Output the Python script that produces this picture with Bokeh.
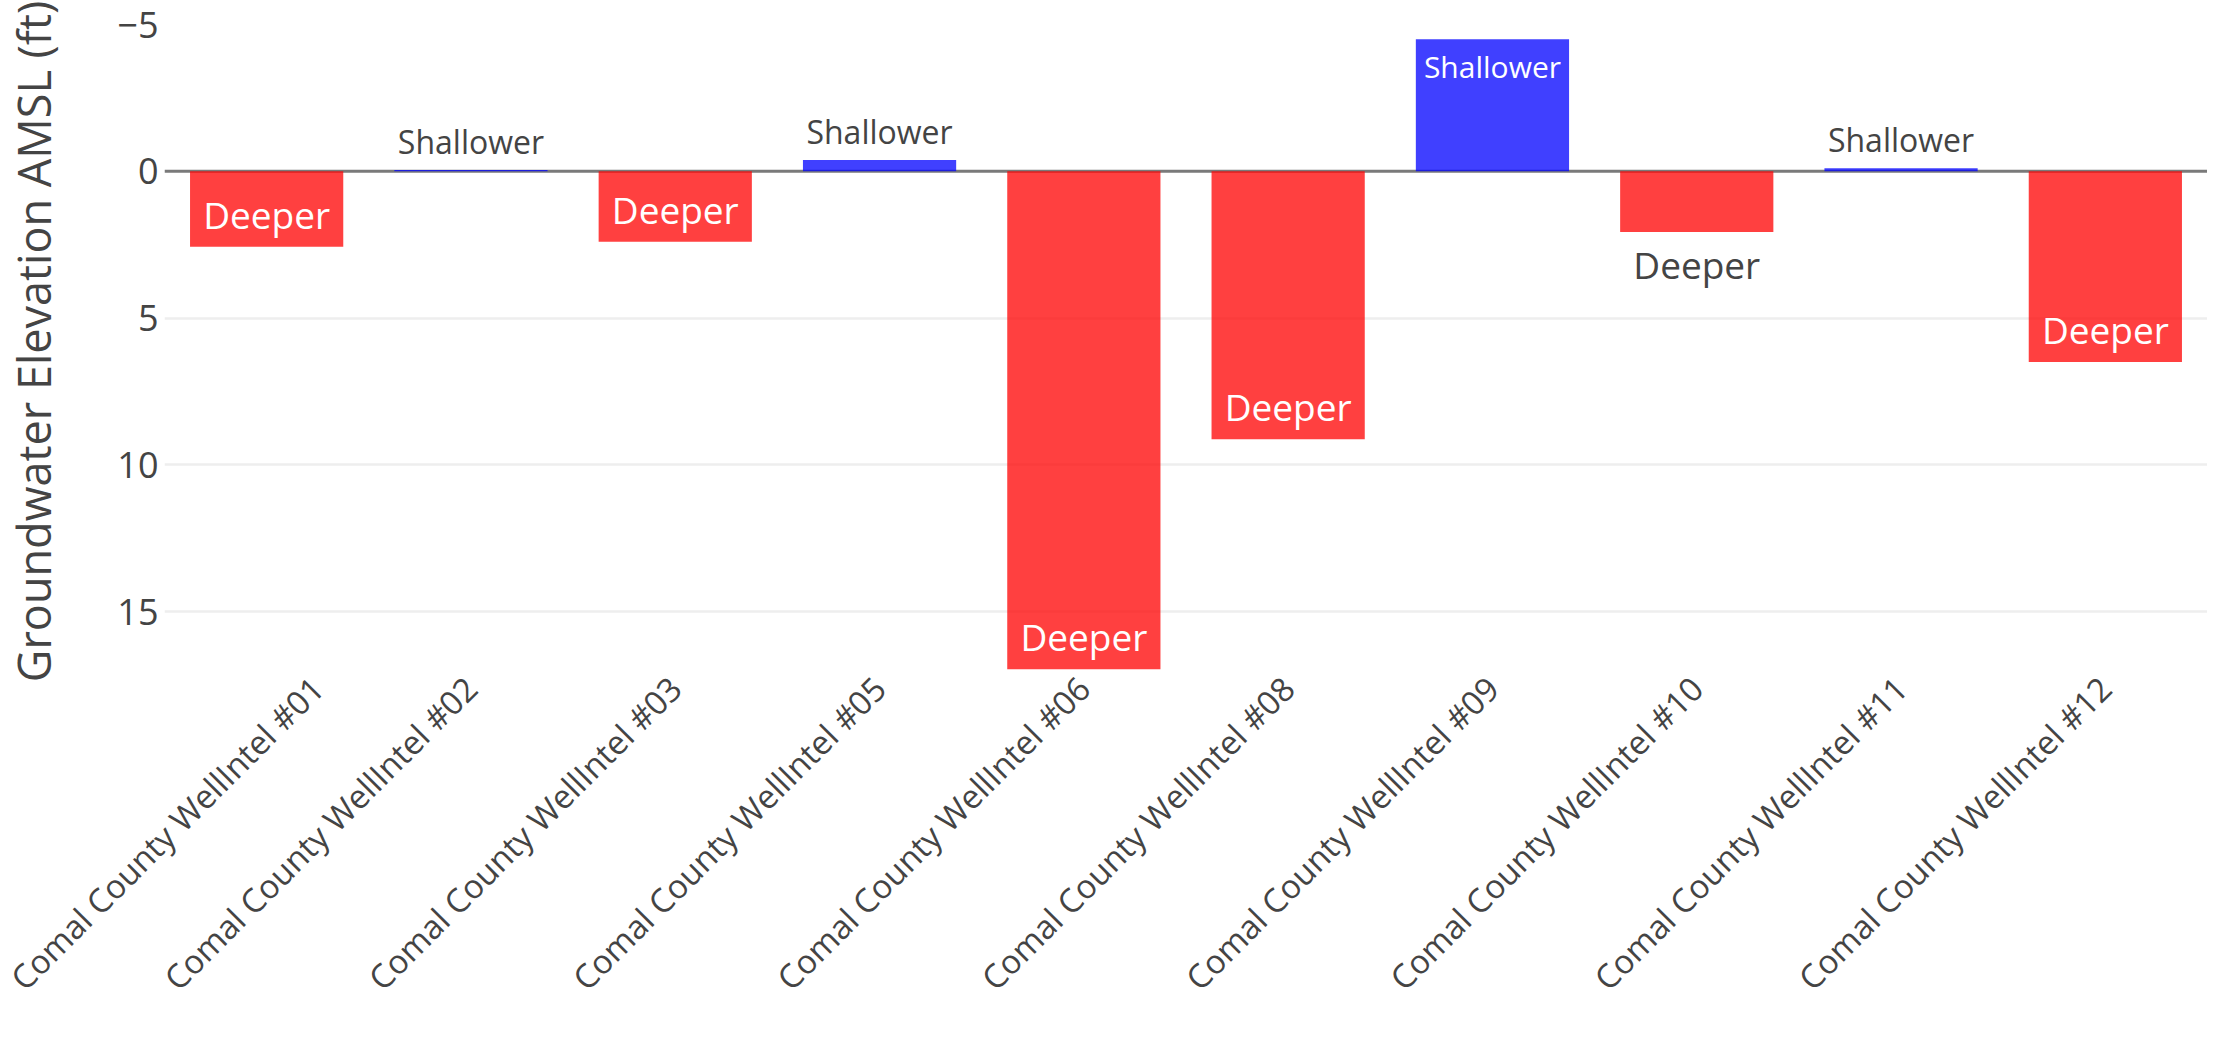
import math
from bokeh.plotting import figure
from bokeh.models import Range1d, FactorRange, FixedTicker, Span, ColumnDataSource
from bokeh.embed import file_html
from bokeh.resources import INLINE

# ---- data ----
wells = [
    "Comal County WellIntel #01",
    "Comal County WellIntel #02",
    "Comal County WellIntel #03",
    "Comal County WellIntel #05",
    "Comal County WellIntel #06",
    "Comal County WellIntel #08",
    "Comal County WellIntel #09",
    "Comal County WellIntel #10",
    "Comal County WellIntel #11",
    "Comal County WellIntel #12",
]
change_ft = [2.57, -0.04, 2.40, -0.38, 16.97, 9.13, -4.50, 2.07, -0.10, 6.50]
direction = ["Deeper", "Shallower", "Deeper", "Shallower", "Deeper",
             "Deeper", "Shallower", "Deeper", "Shallower", "Deeper"]
y_ticks = [-5, 0, 5, 10, 15]
y_tick_labels = ["\u22125", "0", "5", "10", "15"]
y_title = "Groundwater Elevation AMSL (ft)"

FONT = "Open Sans"
TXT = "#444444"

# ---- derived styling ----
bar_colors = ["red" if v > 0 else "blue" for v in change_ft]
inside = [abs(v) >= 2.2 for v in change_ft]
label_colors = ["white" if ins else TXT for ins in inside]
baselines, offsets, sizes = [], [], []
for v, d, ins in zip(change_ft, direction, inside):
    deeper = v > 0
    if (deeper and ins) or ((not deeper) and (not ins)):
        baselines.append("bottom"); offsets.append(-7)
    else:
        baselines.append("top"); offsets.append(7)
    if d == "Deeper":
        sizes.append("37px")
    else:
        sizes.append("30px" if ins else "32px")

bars = ColumnDataSource(dict(well=wells, value=change_ft, color=bar_colors))
labs = ColumnDataSource(dict(well=wells, value=change_ft, text=direction,
                             color=label_colors, baseline=baselines,
                             yoff=offsets, size=sizes))

p = figure(
    x_range=FactorRange(*wells),
    y_range=Range1d(17.419, -5.818),
    width=2207, height=1045,
    output_backend="svg", toolbar_location=None,
    min_border_left=155, min_border_right=0,
    min_border_top=0, min_border_bottom=363,
)
p.outline_line_color = None
p.background_fill_color = "white"

p.vbar(x="well", top="value", bottom=0, width=0.75, source=bars,
       fill_color="color", fill_alpha=0.75, line_color=None)

p.text(x="well", y="value", text="text", source=labs,
       text_color="color", text_baseline="baseline", text_align="center",
       y_offset="yoff", text_font_size="size",
       text_font={"value": FONT})

zero = Span(location=0, dimension="width", line_color="#7a7a7a",
            line_width=3, level="underlay")
p.add_layout(zero)

p.xgrid.grid_line_color = None
p.ygrid.ticker = FixedTicker(ticks=[t for t in y_ticks if t > 0])
p.ygrid.grid_line_color = "#eeeeee"
p.ygrid.grid_line_width = 2.5

p.yaxis.ticker = FixedTicker(ticks=y_ticks)
p.yaxis.major_label_overrides = {t: s for t, s in zip(y_ticks, y_tick_labels)}
p.yaxis.axis_label = y_title

for ax in (p.xaxis[0], p.yaxis[0]):
    ax.axis_line_color = None
    ax.major_tick_line_color = None
    ax.minor_tick_line_color = None
    ax.major_tick_out = 0
    ax.major_label_text_font = FONT
    ax.major_label_text_color = TXT

p.yaxis.major_label_text_font_size = "36px"
p.xaxis.major_label_text_font_size = "33px"

p.yaxis.major_label_standoff = 6
p.yaxis.axis_label_text_font = FONT
p.yaxis.axis_label_text_font_size = "45px"
p.yaxis.axis_label_text_font_style = "normal"
p.yaxis.axis_label_text_color = TXT
p.yaxis.axis_label_standoff = 50

p.xaxis.major_label_orientation = math.pi / 4
p.xaxis.major_label_standoff = 0

open("out.html", "w").write(file_html(p, INLINE))
